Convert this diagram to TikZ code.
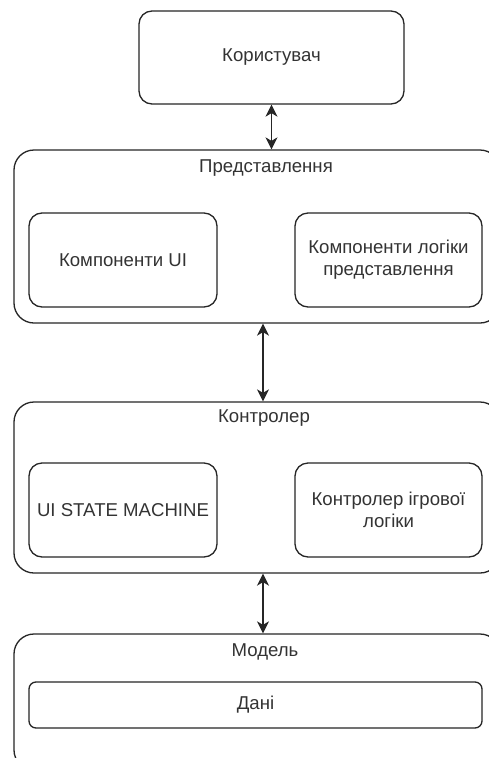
\documentclass[tikz,border=0pt]{standalone}
\usepackage{fontspec}
\setmainfont{Liberation Sans}
\usetikzlibrary{arrows.meta}

\begin{document}
\begin{tikzpicture}[x=1pt,y=-1pt,
  every node/.style={font=\fontsize{18.6}{22}\selectfont, text=black!80},
  box/.style={draw=black!85, line width=1.3pt, rounded corners=#1, fill=white, inner sep=0pt},
  box/.default=13pt,
  link/.style={draw=black!85, line width=1.3pt,
    {Stealth[length=12pt,width=12pt,inset=3.5pt]}-{Stealth[length=12pt,width=12pt,inset=3.5pt]}},
  title/.style={anchor=center, inner sep=0pt}]
  \clip (0,0) rectangle (489,758);
  \fill[white] (0,0) rectangle (489,758);

  % user
  \node[box, minimum width=265pt, minimum height=93pt] (user) at (271.5,57.5) {Користувач};

  % view layer
  \node[box=20pt, minimum width=486pt, minimum height=173pt] (view) at (257,236.5) {};
  \node[title] (viewt) at (266,168) {Представлення};
  \node[box, minimum width=188pt, minimum height=94pt] (ui) at (123,260) {Компоненти UI};
  \node[box, minimum width=187pt, minimum height=94pt, align=center] (vlogic) at (388.5,260)
    {Компоненти логіки\\представлення};

  % controller layer
  \node[box=20pt, minimum width=486pt, minimum height=171pt] (ctrl) at (257,487.5) {};
  \node[title] (ctrlt) at (264,418) {Контролер};
  \node[box, minimum width=188pt, minimum height=94pt] (sm) at (123,510) {UI STATE MACHINE};
  \node[box, minimum width=187pt, minimum height=94pt, align=center] (glogic) at (388.5,510)
    {Контролер ігрової\\логіки};

  % model layer
  \node[box=20pt, minimum width=486pt, minimum height=136pt] (model) at (257,702) {};
  \node[title] (modelt) at (265,652) {Модель};
  \node[box=7pt, minimum width=453pt, minimum height=46pt] (data) at (255.5,705) {Дані};

  % connectors
  \coordinate (axis) at (263,0);
  \draw[link] (user.south) -- (view.north -| user.south);
  \draw[link] (view.south -| axis) -- (ctrl.north -| axis);
  \draw[link] (ctrl.south -| axis) -- (model.north -| axis);
\end{tikzpicture}
\end{document}
